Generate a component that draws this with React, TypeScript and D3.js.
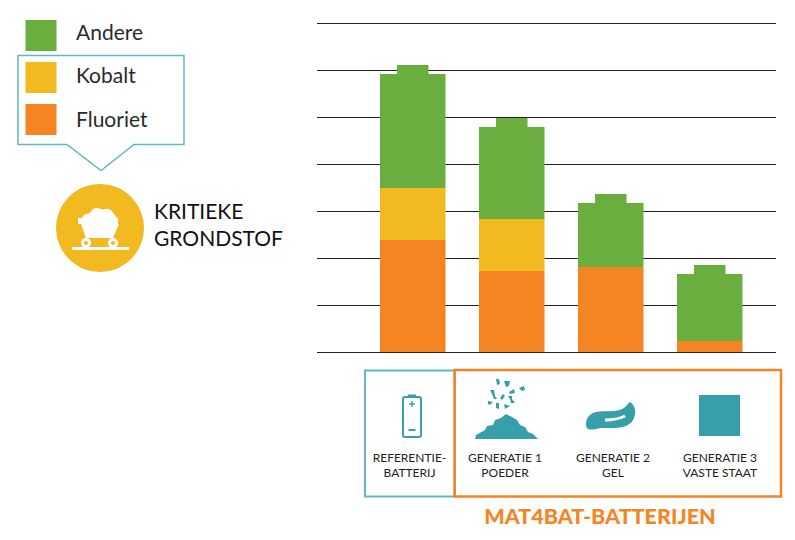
import React from "react";
import * as d3 from "d3";

const batteries = ["Referentie", "Generatie 1", "Generatie 2", "Generatie 3"];
const fluoriet = [2.38, 1.72, 1.81, 0.23];
const kobalt = [1.11, 1.11, 0, 0];
const andere = [2.43, 1.96, 1.36, 1.43];
const capHeight = [0.19, 0.19, 0.19, 0.19];
const gridTicks = [0, 1, 2, 3, 4, 5, 6, 7];
const legendItems = ["Andere", "Kobalt", "Fluoriet"];

const GREEN = "#6aae3f";
const YELLOW = "#f2b921";
const ORANGE = "#f58423";
const TEAL = "#379fa9";
const TEAL_LIGHT = "#62b8c0";
const FONT = "Lato, 'Open Sans', sans-serif";

const y = d3.scaleLinear().domain([0, 7]).range([352, 23]);
const x = d3.scaleBand().domain(batteries).range([380, 742.5]).paddingInner(33.5 / 99).paddingOuter(0);
const colors = d3.scaleOrdinal<string, string>().domain(legendItems).range([GREEN, YELLOW, ORANGE]);
const py = (v: number) => Math.round(y(v));

const rows = batteries.map((b, i) => ({ b, Fluoriet: fluoriet[i], Kobalt: kobalt[i], Andere: andere[i] }));
const stacked = d3.stack<any>().keys(["Fluoriet", "Kobalt", "Andere"])(rows);

const tealPath = d3.line()([[18, 55.5], [184, 55.5], [184, 144.5], [134, 144.5], [101, 170.5], [67, 144.5], [18, 144.5]]) + "Z";

const heap: [number, number][] = [[475, 439], [476, 435], [485, 430], [487, 426], [493, 425], [495, 420], [501, 418], [506, 414], [512, 417], [517, 420], [520, 425], [525, 427], [528, 432], [533, 434], [538, 439]];
const gel = "M586 424 C586 416 592 412 600 411.5 C608 411 618 412 624 408 C627 406 628 403 630 402 C634 404 636 410 635 414 C634 421 630 425 623 427 C615 429 606 427 598 428.5 C592 430 586 431 586 424Z";
const flakes: [number, number][][] = [
  [[496, 379], [499, 379], [500, 384], [497, 385]],
  [[504, 381], [510, 381], [509, 386], [506, 387]],
  [[519, 388], [524, 386], [525, 390], [522, 391]],
  [[509, 392], [514, 389], [515, 393], [510, 394]],
  [[490, 390], [494, 390], [495, 396], [497, 399], [494, 399], [492, 394]],
  [[500, 398], [503, 394], [505, 396], [502, 400]],
  [[508, 396], [512, 396], [512, 399], [515, 403], [511, 403], [510, 399]],
  [[488, 401], [493, 402], [490, 405], [488, 404]],
  [[496, 403], [499, 403], [499, 409], [496, 408]],
  [[504, 404], [510, 406], [505, 409]],
];

function Label({ cx, lines }: { cx: number; lines: string[] }) {
  return (
    <text textAnchor="middle" fontFamily={FONT} fontSize={12} fill="#222">
      {lines.map((l, i) => (
        <tspan key={l} x={cx} y={462 + i * 14.5}>{l}</tspan>
      ))}
    </text>
  );
}

export default function App() {
  return (
    <svg width={795} height={540} style={{ position: "absolute", left: 0, top: 0, background: "#fff" }}>
      {gridTicks.map((t) => (
        <line key={t} x1={317} x2={776} y1={y(t) + 0.5} y2={y(t) + 0.5} stroke="#222" strokeWidth={1} />
      ))}

      {stacked.map((s) =>
        s.map((d, i) => (
          d[1] > d[0] ? (
            <rect key={s.key + i} x={x(batteries[i])} width={x.bandwidth()} y={py(d[1])} height={py(d[0]) - py(d[1])} fill={colors(s.key)} />
          ) : null
        ))
      )}
      {batteries.map((b, i) => {
        const top = fluoriet[i] + kobalt[i] + andere[i];
        return (
          <rect key={b} x={x(b)! + 17} width={x.bandwidth() - 34} y={py(top + capHeight[i])} height={py(top) - py(top + capHeight[i]) + 1} fill={GREEN} />
        );
      })}

      {legendItems.map((k, i) => (
        <g key={k}>
          <rect x={25.5} y={20 + i * 42} width={31} height={31} fill={colors(k)} />
          <text x={76} y={40 + i * 43.4} fontFamily={FONT} fontSize={21} fill="#2a2a2a">{k}</text>
        </g>
      ))}
      <path d={tealPath} fill="none" stroke={TEAL_LIGHT} strokeWidth={1.5} />

      <circle cx={100} cy={228} r={44} fill={YELLOW} />
      <g fill="#fff" stroke="none">
        <rect x={72} y={247} width={57} height={3} />
        <rect x={78} y={218} width={40} height={6} />
        <path d="M81 224 H119 L113 238 H86Z" />
        <path d="M82 218 C84 213 88 214 90 213 C92 209 95 207 98 208 C101 209 103 210 106 209 C110 208 113 212 117 218Z" />
        <circle cx={86} cy={243} r={5} />
        <circle cx={113} cy={243} r={5} />
      </g>
      <circle cx={86} cy={243} r={2} fill={YELLOW} />
      <circle cx={113} cy={243} r={2} fill={YELLOW} />
      <text fontFamily={FONT} fontSize={21} fill="#111">
        <tspan x={154} y={219}>KRITIEKE</tspan>
        <tspan x={154} y={246}>GRONDSTOF</tspan>
      </text>

      <rect x={365} y={370.5} width={90} height={126} fill="none" stroke={TEAL_LIGHT} strokeWidth={2} />
      <rect x={454.5} y={370} width={326.5} height={126.5} fill="none" stroke={ORANGE} strokeWidth={2.5} />

      <g>
        <rect x={403} y={397} width={18} height={40} rx={2} fill="none" stroke={TEAL} strokeWidth={2} />
        <rect x={408} y={394.5} width={8} height={2.5} fill={TEAL} />
        <path d="M412 401 V407 M409 404 H415" stroke={TEAL} strokeWidth={1.4} fill="none" />
        <path d="M408.5 430 H415.5" stroke={TEAL} strokeWidth={2} fill="none" />
      </g>
      <path d={d3.line()(heap) + "Z"} fill={TEAL} />
      {flakes.map((p, i) => (
        <path key={i} d={d3.line()(p) + "Z"} fill={TEAL} />
      ))}
      <path d={gel} fill={TEAL} />
      <path d="M605 420 C613 420 619 419 625 416" stroke="#fff" strokeWidth={3} fill="none" />
      <rect x={699} y={395} width={41} height={41} fill={TEAL} />

      <Label cx={409.5} lines={["REFERENTIE-", "BATTERIJ"]} />
      <Label cx={505} lines={["GENERATIE 1", "POEDER"]} />
      <Label cx={613} lines={["GENERATIE 2", "GEL"]} />
      <Label cx={720} lines={["GENERATIE 3", "VASTE STAAT"]} />

      <text x={600} y={524} textAnchor="middle" fontFamily={FONT} fontSize={21.5} fontWeight={900} fill={ORANGE}>MAT4BAT-BATTERIJEN</text>
    </svg>
  );
}
